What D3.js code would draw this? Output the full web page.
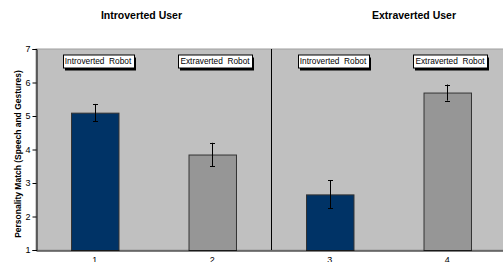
<!DOCTYPE html>
<html><head><meta charset="utf-8">
<script src="https://cdn.jsdelivr.net/npm/d3@7"></script>
<style>
html,body{margin:0;padding:0;background:#fff;overflow:hidden}
text{font-family:"Liberation Sans",Arial,sans-serif}
</style></head>
<body>
<svg id="c" width="503" height="262"></svg>
<script>
const categories = ["1", "2", "3", "4"];
const values = [5.1, 3.85, 2.66, 5.7];
const errors = [0.26, 0.35, 0.42, 0.24];
const robotLabels = ["Introverted  Robot", "Extraverted  Robot", "Introverted  Robot", "Extraverted  Robot"];
const groupTitles = ["Introverted User", "Extraverted User"];
const yTicks = [1, 2, 3, 4, 5, 6, 7];
const yTitle = "Personality Match (Speech and Gestures)";
const barColors = ["#003366", "#969696", "#003366", "#969696"];

(function () {
const svg = d3.select("#c");
const pL = 36, pR = 506, pT = 49, pB = 250;

const x = d3.scaleBand().domain(categories).range([pL, pR]).paddingInner(0.596).paddingOuter(0.298);
const y = d3.scaleLinear().domain([1, 7]).range([pB, pT]);

// plot area
svg.append("rect").attr("x", pL).attr("y", pT).attr("width", pR - pL).attr("height", pB - pT)
  .attr("fill", "#c0c0c0").attr("stroke", "#a0a0a0").attr("stroke-width", 1);

// divider between groups
const mid = (x("2") + x.bandwidth() + x("3")) / 2;
svg.append("line").attr("x1", Math.round(mid) + 0.5).attr("x2", Math.round(mid) + 0.5)
  .attr("y1", pT).attr("y2", pB).attr("stroke", "#000").attr("stroke-width", 1);

// bars
const data = categories.map((c, i) => ({c, v: values[i], e: errors[i], col: barColors[i], lab: robotLabels[i]}));
svg.selectAll("rect.bar").data(data).enter().append("rect").attr("class", "bar")
  .attr("x", d => x(d.c) + 0.5).attr("y", d => y(d.v) + 0.5)
  .attr("width", x.bandwidth()).attr("height", d => y(1) - y(d.v))
  .attr("fill", d => d.col).attr("stroke", "#333").attr("stroke-width", 1);

// error bars
const cx = d => Math.round(x(d.c) + x.bandwidth() / 2);
const eg = svg.selectAll("g.err").data(data).enter().append("g").attr("class", "err")
  .attr("stroke", "#000").attr("stroke-width", 1);
eg.append("line").attr("x1", d => cx(d) + 0.5).attr("x2", d => cx(d) + 0.5)
  .attr("y1", d => y(d.v + d.e)).attr("y2", d => y(d.v - d.e));
[1, -1].forEach(s => {
  eg.append("line").attr("x1", d => cx(d) - 2).attr("x2", d => cx(d) + 3)
    .attr("y1", d => Math.round(y(d.v + s * d.e)) + 0.5).attr("y2", d => Math.round(y(d.v + s * d.e)) + 0.5);
});

// axes
const yAxis = d3.axisLeft(y).tickValues(yTicks).tickSize(4).tickPadding(2).tickFormat(d3.format("d"));
const ya = svg.append("g").attr("transform", `translate(${pL + 0.5},0)`).call(yAxis);
ya.select(".domain").attr("stroke", "#000");
ya.selectAll("text").attr("font-size", 9).attr("fill", "#000").style("font-family", "Liberation Sans, Arial, sans-serif");

const xAxis = d3.axisBottom(x).tickSize(0).tickPadding(6);
const xa = svg.append("g").attr("transform", `translate(0,${pB + 0.5})`).call(xAxis);
xa.select(".domain").attr("stroke", "#000");
xa.selectAll("text").attr("font-size", 9).attr("fill", "#000").style("font-family", "Liberation Sans, Arial, sans-serif");

// robot labels
const lg = svg.selectAll("g.lab").data(data).enter().append("g").attr("class", "lab")
  .attr("transform", d => `translate(${Math.round(x(d.c) + x.bandwidth() / 2 + 3)},61.5)`);
lg.each(function (d) {
  const g = d3.select(this);
  const t = g.append("text").attr("text-anchor", "middle").attr("dy", "0.35em")
    .attr("font-size", 8.3).style("white-space", "pre").text(d.lab);
  const w = Math.round(t.node().getComputedTextLength() + 5);
  g.insert("rect", "text").attr("x", Math.round(-w / 2) + 2).attr("y", -4).attr("width", w).attr("height", 13).attr("fill", "#000");
  g.insert("rect", "text").attr("x", Math.round(-w / 2) + 0.5).attr("y", -6.5).attr("width", w).attr("height", 13)
    .attr("fill", "#fff").attr("stroke", "#000").attr("stroke-width", 1);
});

// group titles
const titleX = [141.5, 414];
svg.selectAll("text.gt").data(groupTitles).enter().append("text").attr("class", "gt")
  .attr("x", (d, i) => titleX[i]).attr("y", 19).attr("text-anchor", "middle")
  .attr("font-size", 10.5).attr("font-weight", "bold").text(d => d);

// y title
svg.append("text").attr("transform", "translate(21,154) rotate(-90)").attr("text-anchor", "middle")
  .attr("font-size", 8.5).attr("font-weight", "bold").text(yTitle);
})();
</script>
</body></html>
